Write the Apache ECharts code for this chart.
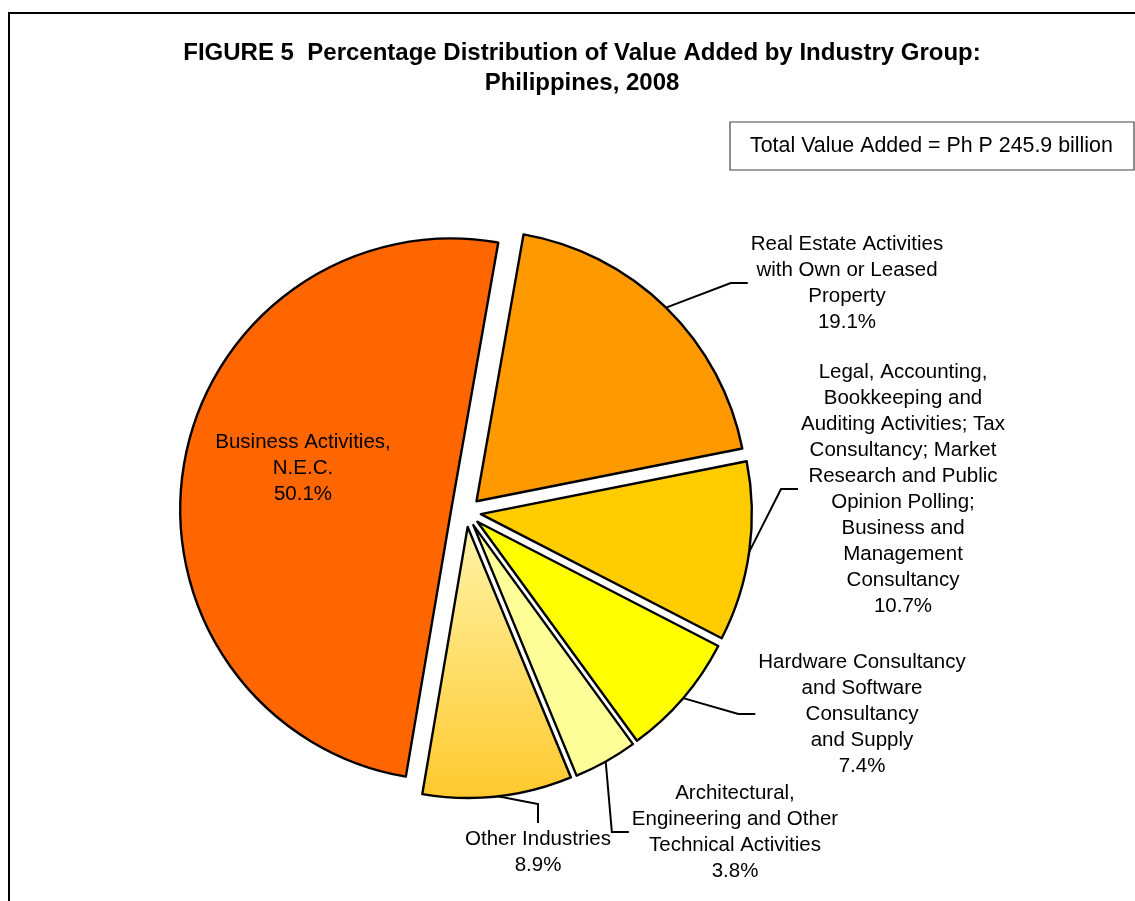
<!DOCTYPE html>
<html>
<head>
<meta charset="utf-8">
<script src="https://cdn.jsdelivr.net/npm/echarts@6/dist/echarts.min.js"></script>
<style>
  html, body { margin: 0; padding: 0; background: #fff; }
  #chart { width: 1135px; height: 901px; }
</style>
</head>
<body>
<div id="chart"></div>
<script>
// industry groups, clockwise from the top
var industries = [
    'Real Estate Activities\nwith Own or Leased\nProperty',
    'Legal, Accounting,\nBookkeeping and\nAuditing Activities; Tax\nConsultancy; Market\nResearch and Public\nOpinion Polling;\nBusiness and\nManagement\nConsultancy',
    'Hardware Consultancy\nand Software\nConsultancy\nand Supply',
    'Architectural,\nEngineering and Other\nTechnical Activities',
    'Other Industries',
    'Business Activities,\nN.E.C.'
];
var shares = [19.1, 10.7, 7.4, 3.8, 8.9, 50.1];
var totalText = 'Total Value Added = Ph P 245.9 billion';

// slice colours
var sliceColors = [
    '#FF9900',
    '#FFCC00',
    '#FFFF00',
    '#FFFF99',
    new echarts.graphic.LinearGradient(0, 0, 0, 1, [
        {offset: 0, color: '#FFF4A8'},
        {offset: 1, color: '#FFC92E'}
    ]),
    '#FF6600'
];
// where each label sits (centre of text block)
var labelSpots = [
    [847, 283],
    [903, 489],
    [862, 714],
    [735, 832],
    [538, 852],
    [303, 468]
];

var font = '"Liberation Sans", Arial, sans-serif';
var startAng = 80;
var explode = 15;
var total = shares.reduce(function (a, b) { return a + b; }, 0);

// exploded slices drag their label along, so work out that shift
function sliceShift(i) {
    var before = 0;
    for (var j = 0; j < i; j++) before += shares[j];
    var mid = (startAng - 360 * (before + shares[i] / 2) / total) * Math.PI / 180;
    return [explode * Math.cos(mid), -explode * Math.sin(mid)];
}

var pieData = industries.map(function (name, i) {
    var item = {
        name: name,
        value: shares[i],
        selected: true,
        itemStyle: {color: sliceColors[i]}
    };
    if (i === 5) {
        item.label = {position: 'inner'};
        item.labelLine = {show: false};
    }
    return item;
});

var myChart = echarts.init(document.getElementById('chart'));
var option = {
    backgroundColor: '#fff',
    animation: false,
    title: {
        text: 'FIGURE 5  Percentage Distribution of Value Added by Industry Group:\nPhilippines, 2008',
        left: 577,
        top: 33,
        textAlign: 'center',
        textStyle: {
            fontFamily: font,
            fontSize: 24,
            fontWeight: 'bold',
            color: '#000',
            lineHeight: 30
        }
    },
    graphic: [
        {
            type: 'rect',
            shape: {x: 9, y: 13, width: 1140, height: 900},
            style: {fill: 'none', stroke: '#000', lineWidth: 2},
            silent: true
        },
        {
            type: 'rect',
            shape: {x: 730, y: 122, width: 404, height: 48},
            style: {fill: '#fff', stroke: '#444', lineWidth: 1.2},
            silent: true
        },
        {
            type: 'text',
            x: 750,
            y: 146,
            style: {
                text: totalText,
                font: '21.4px ' + font,
                fill: '#000',
                verticalAlign: 'middle'
            },
            silent: true
        }
    ],
    series: [{
        type: 'pie',
        center: [466, 512],
        radius: 271,
        startAngle: startAng,
        clockwise: true,
        selectedMode: 'multiple',
        selectedOffset: explode,
        avoidLabelOverlap: false,
        itemStyle: {borderColor: '#000', borderWidth: 2.4},
        select: {itemStyle: {borderColor: '#000', borderWidth: 2.4}},
        emphasis: {disabled: true},
        label: {
            show: true,
            position: 'outside',
            formatter: function (p) {
                return p.name + '\n' + p.value.toFixed(1) + '%';
            },
            fontFamily: font,
            fontSize: 20.5,
            lineHeight: 26,
            color: '#000'
        },
        labelLine: {
            show: true,
            length: 20,
            length2: 17,
            lineStyle: {color: '#000', width: 2}
        },
        labelLayout: function (params) {
            var i = params.dataIndex;
            var t = labelSpots[i];
            var s = sliceShift(i);
            var r = params.labelRect;
            var al = params.align || (i === 5 ? 'center' : 'left');
            var ax = al === 'left' ? r.x : (al === 'right' ? r.x + r.width : r.x + r.width / 2);
            var cx = t[0] - s[0];
            var cy = t[1] - s[1];
            var out = {dx: cx - ax, dy: cy - (r.y + r.height / 2), align: 'center'};
            if (i !== 5 && params.labelLinePoints) {
                var p0 = params.labelLinePoints[0];
                var end, bend;
                if (i === 4) {
                    end = [cx, cy - r.height / 2 - 3];
                    bend = [cx, end[1] - 19];
                } else {
                    end = [cx - r.width / 2 - 3, cy];
                    bend = [end[0] - 17, cy];
                }
                out.labelLinePoints = [[p0[0], p0[1]], bend, end];
            }
            return out;
        },
        data: pieData
    }]
};
myChart.setOption(option);
</script>
</body>
</html>
